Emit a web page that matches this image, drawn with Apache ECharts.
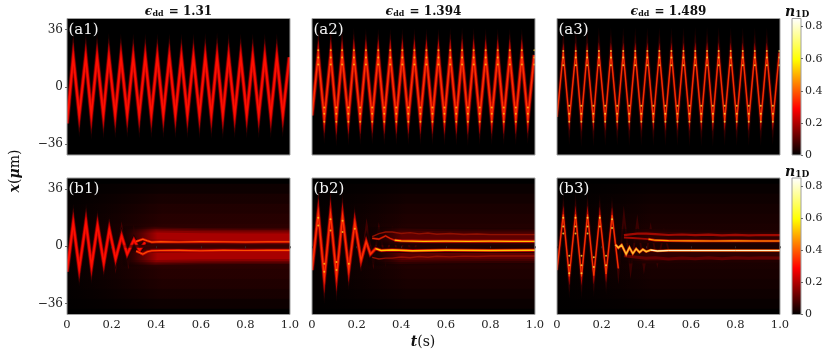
<!DOCTYPE html>
<html><head><meta charset="utf-8">
<style>html,body{margin:0;padding:0;background:#fff}#c{width:830px;height:354px;filter:blur(.45px)}</style>
<script src="https://cdn.jsdelivr.net/npm/echarts@6/dist/echarts.min.js"></script>
</head><body><div id="c"></div>
<script>
// ---------- data (t in s, x in micrometres) ----------
const tTurnTop = [0,.028,.055,.084,.109,.135,.163,.188,.216,.242,.270,.297,.324,.351,.378,.405,.432,.459,.486,.513,.540,.567,.594,.620,.647,.673,.699,.725,.752,.779,.806,.833,.860,.887,.914,.941,.968,.997];
const xA1 = [-23,18.5,-17.5,18.5,-17.5,18.5,-17.5,18.5,-17.5,18.5,-17.5,18.5,-17.5,18.5,-17.5,18.5,-17.5,18.5,-17.5,18.5,-17.5,18.5,-17.5,18.5,-17.5,18.5,-17.5,18.5,-17.5,18.5,-17.5,18.5,-17.5,18.5,-17.5,18.5,-17.5,18.5];
const xA2 = [-18,20,-20,20,-20,20,-20,20,-20,20,-20,20,-20,20,-20,20,-20,20,-20,20,-20,20,-20,20,-20,20,-20,20,-20,20,-20,20,-20,20,-20,20,-20,20];
const xA3 = [-19,21.5,-21.5,21.5,-21.5,21.5,-21.5,21.5,-21.5,21.5,-21.5,21.5,-21.5,21.5,-21.5,21.5,-21.5,21.5,-21.5,21.5,-21.5,21.5,-21.5,21.5,-21.5,21.5,-21.5,21.5,-21.5,21.5,-21.5,21.5,-21.5,21.5,-21.5,21.5,-21.5,21.5];
const tPeaksTop = [.028,.084,.135,.188,.242,.297,.351,.405,.459,.513,.567,.620,.673,.725,.779,.833,.887,.941,.997];
const tValleysTop = [.055,.109,.163,.216,.270,.324,.378,.432,.486,.540,.594,.647,.699,.752,.806,.860,.914,.968];
const dotsUpA2 = [23,18.5,14];
const dotsDownA2 = [-13,-17,-22];
const dotsUpA3 = [22.5,18.5,13.5];
const dotsDownA3 = [-12,-17,-22];

const tB1 = [0,.028,.055,.085,.11,.137,.165,.19,.218,.245,.27,.30,.325,.35];
const xB1 = [-16,14.5,-14,15,-12.5,13,-10.5,10.5,-8,6.5,-5,4,-2.5,2.5];
const tRayB1 = [.19,.218,.245,.275,.30,.33,.36,.39,.42,.45,.48,.51];
const xRayB1 = [14,-13,12,-11,10,-9,8,-8,7,-7,6,-6];
const tUpB1 = [.31,.34,.36,.38,.42,.50,.60,.70,.80,.90,1];
const xUpB1 = [3,4.5,3.5,2.6,2.9,2.7,2.9,2.8,2.7,2.8,2.8];
const xLowB1 = [-3,-5,-3.5,-2.8,-2.7,-2.6,-2.8,-2.6,-2.7,-2.6,-2.6];

const tB2 = [0,.028,.055,.083,.11,.137,.165,.192,.22,.243,.262,.285,.31,.36,.45,.60,.80,1];
const xB2 = [-15,21,-20,20,-19,19,-15,15,-9,3,-5,-1.5,-2.6,-2.4,-2.8,-2.5,-2.6,-2.5];
const tRayB2 = [.192,.22,.245,.275,.30,.33,.36,.39,.42,.45,.48];
const xRayB2 = [15,-12,14,-11,12,-10,10,-9,9,-8,8];
const tUpB2a = [.27,.30,.33,.35,.37];
const xUpB2a = [5,4.5,6.5,5,3.8];
const tUpB2 = [.37,.40,.50,.60,.70,.80,.90,1];
const xUpB2 = [3.8,3.4,3.1,3.2,3.1,3.2,3.1,3.1];
const tOutB2 = [.27,.30,.33,.36,.40,.44,.48,.52,.56,.62,.68,.74,.80,.90,1];
const xOutUpB2 = [6,8,9,9,8,8.6,7.8,8.3,7.6,8,7.4,7.7,7.3,7.3,7.3];
const xOutLowB2 = [-7,-8,-7.5,-7.5,-6.8,-7.2,-6.5,-6.9,-6.3,-6.7,-6.2,-6.5,-6.1,-6.1,-6.1];

const tB3 = [0,.028,.055,.083,.11,.137,.165,.192,.22,.247,.275];
const xB3 = [-15,20,-19,20,-19,20,-18.5,19.5,-17.5,19.5,-14];
const tLowB3 = [.262,.275,.29,.31,.325,.34,.355,.37,.385,.40,.42,.45,.50,.60,.80,1];
const xLowB3 = [1,-1,.8,-5,-.8,-4.6,-1.6,-3.8,-2,-3.4,-2.4,-3,-2.7,-2.7,-2.7,-2.7];
const tRayB3 = [.247,.275,.30,.33,.36,.39,.42,.45,.48,.51];
const xRayB3 = [22,-18,20,-16,16,-14,12,-11,9,-8];
const tUpB3a = [.30,.34,.38,.41];
const xUpB3a = [5.5,5.2,4.8,4.5];
const tUpB3 = [.41,.44,.50,.60,.70,.80,.90,1];
const xUpB3 = [4.5,3.8,3.5,3.4,3.3,3.4,3.3,3.3];
const tOutB3 = [.30,.36,.40,.44,.50,.56,.62,.68,.74,.80,.86,.92,1];
const xOutUpB3 = [7,8,8,7.6,7.1,7.4,7,7.3,6.9,7.2,6.9,7.1,7];
const xOutLowB3 = [-6,-7,-7.6,-7.2,-8,-7.4,-7.9,-7.3,-7.8,-7.3,-7.6,-7.3,-7.4];

const dotsPeakB2T = [.028,.028,.083,.083,.137,.137,.192];
const dotsPeakB2X = [18,13,17,10,16,9,11];
const dotsValB2T = [.055,.055,.11,.11,.165];
const dotsValB2X = [-16,-11,-15,-10,-11];
const dotsB3T = [.028,.028,.028,.083,.083,.083,.137,.137,.137,.192,.192,.247,.247,.055,.055,.055,.11,.11,.11,.165,.165,.22,.22];
const dotsB3X = [18,12.5,8,18,12.5,8,18,12.5,8,18,12.5,17,11.5,-6,-12,-17,-6,-12,-17,-7,-13,-6,-12];

const bandT = [.25,.40,.60,.80,1];
const bandUpX = [6.5,6.5,6,5.8,5.8];
const bandLowX = [-6.5,-6.5,-6,-5.8,-5.8];
const zeroLineT = [.25,1];
const zeroLineX = [0,0];

const titles = ['1.31','1.394','1.489'];
const panelNames = ['(a1)','(a2)','(a3)','(b1)','(b2)','(b3)'];
const yTicks = [-36,0,36];
const barTicks = [0,.2,.4,.6,.8];
const barMax = [.85];

// ---------- layout and drawing ----------
const lefts = [67,312,557], tops = [18.5,178], W = 223, H = 136.5;
const F = '"DejaVu Serif"';
const zip = (a,b) => a.map((v,i)=>[v,b[i]]);
const grids=[],xAxes=[],yAxes=[],series=[],titleC=[],frames=[];

function line(g,t,x,w,color){
  series.push({type:'line',xAxisIndex:g,yAxisIndex:g,data:zip(t,x),showSymbol:false,silent:true,animation:false,
    lineStyle:{width:w,color:color,join:'miter',miterLimit:60,cap:'butt'},z:2});
}
function dots(g,t,x,size,color){
  series.push({type:'scatter',xAxisIndex:g,yAxisIndex:g,data:zip(t,x),symbolSize:size,silent:true,animation:false,
    itemStyle:{color:color},z:3});
}
function cross(ts,xs){const a=[],b=[];ts.forEach(t=>xs.forEach(x=>{a.push(t);b.push(x);}));return [a,b];}
function fade(c,from){return {type:'linear',x:0,y:0,x2:1,y2:0,colorStops:[{offset:0,color:'rgba(0,0,0,0)'},{offset:from,color:c},{offset:1,color:c}]};}
function bands(g,layers){layers.forEach(l=>{line(g,bandT,bandUpX,l[0],fade(l[1],.22));line(g,bandT,bandLowX,l[0],fade(l[1],.22));});}

function frame(l,t,w,h){
  frames.push({type:'rect',z:5,silent:true,shape:{x:l-3,y:t-3,width:w+6,height:h+6},style:{fill:'none',stroke:'#fff',lineWidth:6}});
  frames.push({type:'rect',z:6,silent:true,shape:{x:l,y:t,width:w,height:h},style:{fill:'none',stroke:'#a0a0a0',lineWidth:1}});
}
for(let r=0;r<2;r++)for(let c=0;c<3;c++){
  const g=grids.length;
  grids.push({left:lefts[c],top:tops[r],width:W,height:H,show:true,backgroundColor:'#000',borderWidth:0});
  frame(lefts[c],tops[r],W,H);
  xAxes.push({type:'value',gridIndex:g,min:0,max:1,interval:.2,z:10,splitLine:{show:false},axisLine:{show:false},
    axisTick:{show:r===1,length:2,lineStyle:{color:'#333',width:.7}},
    axisLabel:{show:r===1,margin:5,fontFamily:F,fontSize:11.5,color:'#222',formatter:v=>v===0?'0':v.toFixed(1)}});
  yAxes.push({type:'value',gridIndex:g,min:-43,max:43,z:10,splitLine:{show:false},axisLine:{show:false},
    axisTick:{show:c===0,length:2,customValues:yTicks,lineStyle:{color:'#333',width:.7}},
    axisLabel:{show:c===0,margin:4,customValues:yTicks,fontFamily:F,fontSize:12,color:'#222',formatter:v=>v<0?'\u2212'+(-v):String(v)}});
  titleC.push({text:panelNames[g],left:lefts[c]+1.5,top:tops[r]+4,padding:0,z:12,textStyle:{fontFamily:F,fontSize:15,fontWeight:'normal',color:'#f4f4f4'}});
  if(r===0) titleC.push({text:'{e|\u03f5}{s|dd}{n| = '+titles[c]+'}',left:lefts[c]+W/2,top:5,padding:0,textAlign:'center',
    textStyle:{rich:{e:{fontFamily:F,fontStyle:'italic',fontWeight:'bold',fontSize:12.5,color:'#111'},
      s:{fontFamily:F,fontWeight:'bold',fontSize:8,color:'#111',padding:[5,1,0,0]},
      n:{fontFamily:F,fontWeight:'bold',fontSize:12,color:'#111'}}}});
}

// a1
[[5,'#1c0000'],[4,'#5a0000'],[3,'#c80000'],[1.6,'#ff1000']].forEach(l=>line(0,tTurnTop,xA1,l[0],l[1]));
// a2
[[5,'#180000'],[4,'#480000'],[3,'#c00800'],[1.4,'#ff3000']].forEach(l=>line(1,tTurnTop,xA2,l[0],l[1]));
{const p=cross(tPeaksTop,dotsUpA2),q=cross(tValleysTop,dotsDownA2);dots(1,p[0],p[1],2,'#ffc818');dots(1,q[0],q[1],2,'#ffc818');}
// a3
[[4.4,'#140000'],[3.2,'#340000'],[1.8,'#b80800'],[.9,'#ff4000']].forEach(l=>line(2,tTurnTop,xA3,l[0],l[1]));
{const p=cross(tPeaksTop,dotsUpA3),q=cross(tValleysTop,dotsDownA3);dots(2,p[0],p[1],2,'#ffe040');dots(2,q[0],q[1],2,'#ffe040');}

const halo=(g,c)=>[125,105,85,65,45].forEach(w=>line(g,[0,1],[0,0],w,fade(c,.45)));
// b1
halo(3,'rgba(60,0,0,.22)');
line(3,tRayB1,xRayB1,2,'#460000');
bands(3,[[20,'#2c0000'],[17,'#480000'],[14,'#680000'],[11,'#880000'],[7,'#a80000']]);
[[5,'#1c0000'],[4,'#5a0000'],[3,'#c80000'],[1.6,'#ff1000']].forEach(l=>line(3,tB1,xB1,l[0],l[1]));
line(3,zeroLineT,zeroLineX,3,fade('#380000',.12));
[[2.6,'#c80800'],[1.1,'#ff5000']].forEach(l=>{line(3,tUpB1,xUpB1,l[0],l[1]);line(3,tUpB1,xLowB1,l[0],l[1]);});
// b2
halo(4,'rgba(50,0,0,.2)');
line(4,tRayB2,xRayB2,1.8,'#400000');
bands(4,[[18,'#1e0000'],[15,'#300000'],[11,'#440000'],[7,'#5e0000']]);
line(4,tOutB2,xOutUpB2,1.4,'#901000');line(4,tOutB2,xOutLowB2,1.4,'#901000');
[[5,'#180000'],[4,'#480000'],[3,'#c00800'],[1.4,'#ff3000']].forEach(l=>line(4,tB2,xB2,l[0],l[1]));
[[2,'#a00800'],[.8,'#e83000']].forEach(l=>line(4,tUpB2a,xUpB2a,l[0],l[1]));
[[3,'#d01000'],[1.3,'#ffc000']].forEach(l=>line(4,tUpB2,xUpB2,l[0],l[1]));
line(4,tB2.slice(11),xB2.slice(11),1.5,'#ffc800');
dots(4,dotsPeakB2T,dotsPeakB2X,2,'#ffc818');dots(4,dotsValB2T,dotsValB2X,2,'#ffc818');
// b3
halo(5,'rgba(40,0,0,.2)');
line(5,tRayB3,xRayB3,1.8,'#3a0000');
bands(5,[[14,'#200000'],[9,'#300000']]);
line(5,tOutB3,xOutUpB3,2.2,'#a00800');
line(5,tOutB3,xOutLowB3,3,'#600000');
[[4.4,'#140000'],[3.2,'#340000'],[1.8,'#b80800'],[.9,'#ff4000']].forEach(l=>line(5,tB3,xB3,l[0],l[1]));
line(5,tUpB3a,xUpB3a,1.8,'#a00800');
[[2.6,'#c81000'],[1.2,'#ffa000']].forEach(l=>line(5,tUpB3,xUpB3,l[0],l[1]));
[[2.6,'#d83000'],[1.4,'#ffc030']].forEach(l=>line(5,tLowB3,xLowB3,l[0],l[1]));
line(5,tLowB3.slice(10),xLowB3.slice(10),.9,'#fffbe0');
dots(5,dotsB3T,dotsB3X,2,'#ffe040');

// colour bars
const hot={type:'linear',x:0,y:1,x2:0,y2:0,colorStops:[{offset:0,color:'#000'},{offset:.34,color:'#ff0000'},{offset:.7,color:'#ffff00'},{offset:1,color:'#ffffff'}]};
tops.forEach(tp=>{
  const g=grids.length;
  grids.push({left:792,top:tp,width:9,height:H,show:true,backgroundColor:'#fff',borderWidth:0});
  frames.push({type:'rect',z:6,silent:true,shape:{x:792,y:tp,width:9,height:H},style:{fill:'none',stroke:'#a0a0a0',lineWidth:1}});
  xAxes.push({type:'category',gridIndex:g,data:['n'],show:false});
  yAxes.push({type:'value',gridIndex:g,position:'right',min:0,max:barMax[0],z:10,splitLine:{show:false},axisLine:{show:false},
    axisTick:{show:true,length:2,customValues:barTicks,lineStyle:{color:'#333',width:.7}},
    axisLabel:{margin:4,customValues:barTicks,fontFamily:F,fontSize:11,color:'#222',formatter:v=>v===0?'0':v.toFixed(1)}});
  series.push({type:'bar',xAxisIndex:g,yAxisIndex:g,data:barMax,barWidth:'100%',silent:true,animation:false,itemStyle:{color:hot}});
  titleC.push({text:'{n|n}{s|1D}',left:785,top:tp-13,padding:0,z:12,textStyle:{rich:{
    n:{fontFamily:F,fontStyle:'italic',fontWeight:'bold',fontSize:14,color:'#111'},
    s:{fontFamily:F,fontWeight:'bold',fontSize:9,color:'#111',padding:[5,0,0,0]}}}});
});

const axisRich={i:{fontFamily:F,fontStyle:'italic',fontWeight:'bold',fontSize:14,fill:'#111',color:'#111'},
  r:{fontFamily:F,fontWeight:'normal',fontSize:14,fill:'#111',color:'#111'}};
const chart=echarts.init(document.getElementById('c'),null,{renderer:'canvas'});
chart.setOption({animation:false,backgroundColor:'#fff',title:titleC,grid:grids,xAxis:xAxes,yAxis:yAxes,series:series,
  graphic:frames.concat([
    {type:'text',x:423,y:342,style:{text:'{i|t}{r|(s)}',rich:axisRich,align:'center',verticalAlign:'middle'}},
    {type:'text',x:15,y:171,rotation:Math.PI/2,style:{text:'{i|x}{r|(}{i|\u03bc}{r|m)}',rich:axisRich,align:'center',verticalAlign:'middle'}}
  ])});
</script></b​ody></html>
